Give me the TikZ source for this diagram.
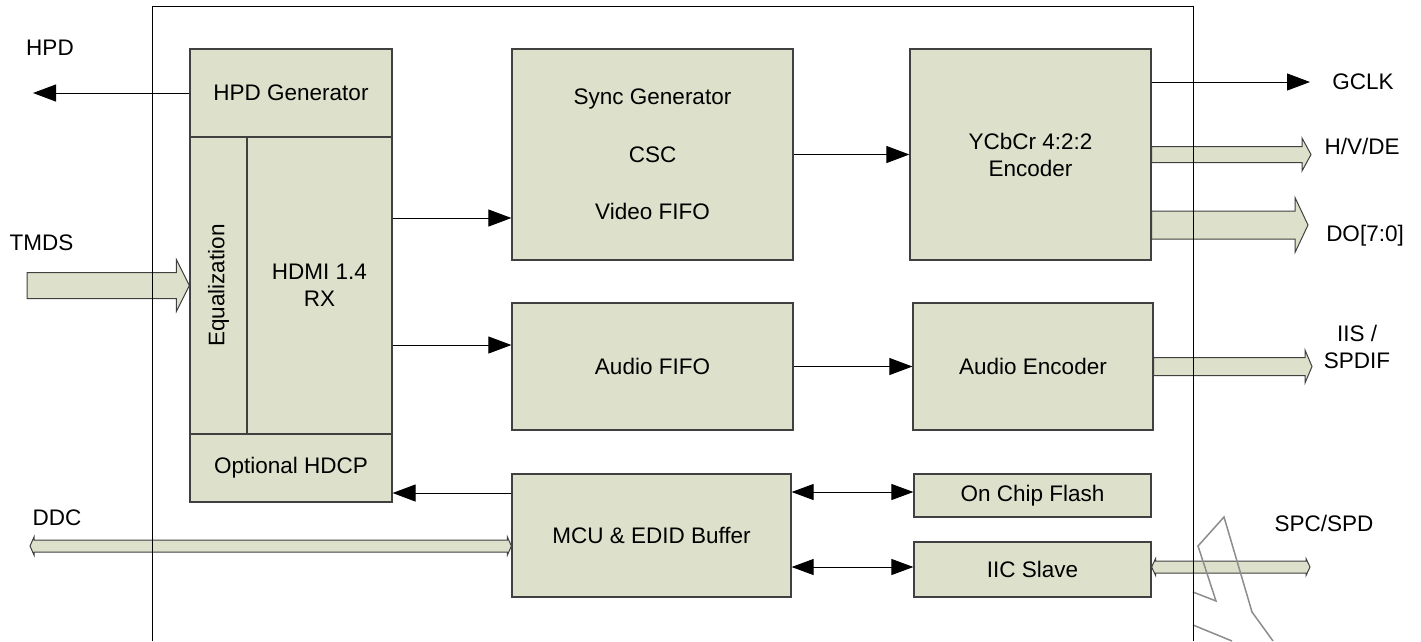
\documentclass[tikz,border=0pt]{standalone}
\usepackage{fontspec}
\setmainfont{Liberation Sans}
\usetikzlibrary{arrows.meta}
\usetikzlibrary{calc}
\usetikzlibrary{positioning}
\definecolor{boxfill}{RGB}{221,225,203}
\definecolor{boxline}{RGB}{64,64,64}
\definecolor{scribblegray}{RGB}{140,140,140}
% wide bus: start, tip, half body, half head, head length
\newcommand{\busarrow}[5]{%
	\draw[bus] ($(#1)+(0,-#3)$) -- ($(#2)+(-#5,-#3)$) -- ($(#2)+(-#5,-#4)$) -- (#2)
		-- ($(#2)+(-#5,#4)$) -- ($(#2)+(-#5,#3)$) -- ($(#1)+(0,#3)$) -- cycle;}
% two-way bus: left tip, right tip, half body, half head, head length
\newcommand{\dbusarrow}[5]{%
	\draw[bus] (#1) -- ($(#1)+(#5,-#4)$) -- ($(#1)+(#5,-#3)$) -- ($(#2)+(-#5,-#3)$) -- ($(#2)+(-#5,-#4)$) -- (#2)
		-- ($(#2)+(-#5,#4)$) -- ($(#2)+(-#5,#3)$) -- ($(#1)+(#5,#3)$) -- ($(#1)+(#5,#4)$) -- cycle;}

\begin{document}
\begin{tikzpicture}[x=1pt, y=-1pt, font=\fontsize{22.5}{27}\selectfont,
		block/.style={draw=boxline, line width=1.2pt, fill=boxfill, inner sep=0pt, align=center},
		bus/.style={draw=boxline, line width=1pt, fill=boxfill},
		arr/.style={line width=1pt, -{Triangle[length=23pt,width=17pt]}},
		twoway/.style={line width=1pt, {Triangle[length=22pt,width=16pt]}-{Triangle[length=22pt,width=16pt]}},
		scribble/.style={draw=scribblegray, line width=1.5pt}]
	\useasboundingbox (0,0) rectangle (1421,641);

	% receiver block
	\node[block, minimum width=202pt, minimum height=88pt] (hpdgen) at (291,93) {HPD Generator};
	\node[block, rotate=90, minimum width=297pt, minimum height=57pt] (eq) at (218.5,285.5) {Equalization};
	\node[block, minimum width=145pt, minimum height=297pt] (rx) at (319.5,285.5) {HDMI 1.4\\RX};
	\node[block, minimum width=202pt, minimum height=68pt] (hdcp) at (291,468) {Optional HDCP};

	\node[block, minimum width=281pt, minimum height=211pt, font=\fontsize{22.5}{57.5}\selectfont] (sync) at (652.5,154.5) {Sync Generator\\CSC\\Video FIFO};
	\node[block, minimum width=281pt, minimum height=127pt] (afifo) at (652.5,366.5) {Audio FIFO};
	\node[block, minimum width=279pt, minimum height=123pt] (mcu) at (651.5,535.5) {MCU \& EDID Buffer};

	\node[block, minimum width=241pt, minimum height=211pt] (ycbcr) at (1030.5,154.5) {YCbCr 4:2:2\\Encoder};
	\node[block, minimum width=240pt, minimum height=127pt] (aenc) at (1033,366.5) {Audio Encoder};
	\node[block, minimum width=237pt, minimum height=43pt] (flash) at (1032.5,495.5) {On Chip Flash};
	\node[block, minimum width=237pt, minimum height=55pt] (iic) at (1032.5,569.5) {IIC Slave};

	% pins
	\node (hpdlbl) at (50,48) {HPD};
	\node (tmdslbl) at (41.5,243) {TMDS};
	\node (ddclbl) at (57,518) {DDC};
	\node (gclklbl) at (1363,82) {GCLK};
	\node (hvdelbl) at (1362,146) {H/V/DE};
	\node (doutlbl) at (1365,236) {DO[7:0]};
	\node[align=center] (iislbl) at (1357,346.5) {IIS /\\SPDIF};
	\node (spclbl) at (1324,523) {SPC/SPD};

	% buses
	\coordinate (tmds) at (27,285.5);
	\busarrow{tmds}{eq.north}{13}{26}{13}
	\coordinate (hvde) at (1311,154.5);
	\busarrow{ycbcr.east}{hvde}{8}{16.5}{9}
	\coordinate (dout) at (1308,225);
	\coordinate (dout-s) at (ycbcr.east |- dout);
	\busarrow{dout-s}{dout}{14}{27.5}{13}
	\coordinate (iis) at (1312,366.5);
	\busarrow{aenc.east}{iis}{9}{16.5}{7}
	\coordinate (ddc) at (30,546);
	\coordinate (ddc-e) at (mcu.west |- ddc);
	\dbusarrow{ddc}{ddc-e}{6}{9}{4}
	\coordinate (spc) at (1310,567);
	\coordinate (spc-w) at (iic.east |- spc);
	\dbusarrow{spc-w}{spc}{6}{8.5}{4}

	% signals
	\coordinate (hpd) at (33,93);
	\draw[arr] (hpdgen.west) -- (hpd);
	\coordinate (gclk) at (1310,82);
	\draw[arr] (ycbcr.east |- gclk) -- (gclk);
	\draw[arr] (rx.east |- 0,218) -- (sync.west |- 0,218);
	\draw[arr] (rx.east |- 0,345) -- (afifo.west |- 0,345);
	\draw[arr] (sync.east) -- (ycbcr.west);
	\draw[arr] (afifo.east) -- (aenc.west);
	\draw[arr] (mcu.west |- 0,493) -- (hdcp.east |- 0,493);
	\draw[twoway] (mcu.east |- 0,492) -- (flash.west |- 0,492);
	\draw[twoway] (mcu.east |- 0,567) -- (iic.west |- 0,567);

	\draw[scribble] (1193,592) -- (1216,601) -- (1198,546) -- (1224,517) -- (1252,612) -- (1273,641);
	\draw[scribble] (1193,625) -- (1232,641);

	% chip outline
	\draw[line width=1pt] (152,641) -- (152,6) -- (1193,6) -- (1193,641);
\end{tikzpicture}
\end{document}
